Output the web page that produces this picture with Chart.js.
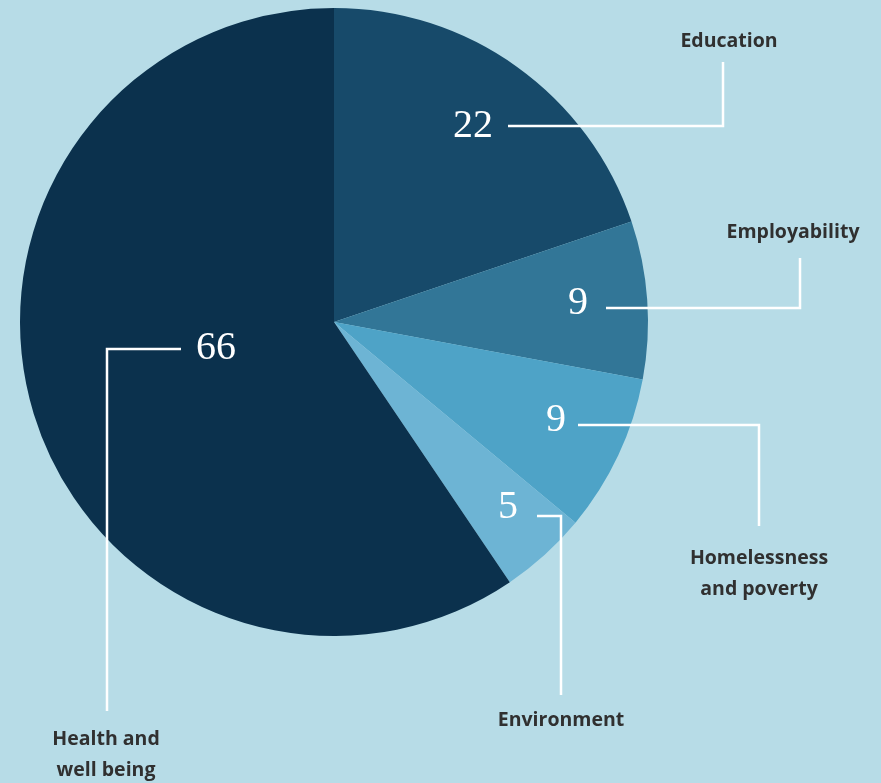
<!DOCTYPE html>
<html>
<head>
<meta charset="utf-8">
<script src="https://cdn.jsdelivr.net/npm/chart.js@4"></script>
<style>
  html, body { margin: 0; padding: 0; background: #b7dce7; }
  #wrap { position: relative; width: 881px; height: 783px; }
</style>
</head>
<body>
<div id="wrap"><canvas id="c" width="881" height="783"></canvas></div>
<script>
// ---- data ----
const categories = ["Education", "Employability", "Homelessness and poverty", "Environment", "Health and well being"];
const values = [22, 9, 9, 5, 66];
const labelLines = [["Education"], ["Employability"], ["Homelessness", "and poverty"], ["Environment"], ["Health and", "well being"]];

// ---- styles / layout ----
const colors = ["#174a6a", "#327697", "#4ea3c7", "#6db4d4", "#0b314d"];
// number position, leader path, label anchor (pixels)
const layoutSpec = [
  { num: [473, 126], path: [[508, 126], [723, 126], [723, 62]], lab: [729, 41] },
  { num: [578, 303], path: [[606, 308], [800, 308], [800, 258]], lab: [793, 232] },
  { num: [556, 420], path: [[578, 425], [759, 425], [759, 526]], lab: [759, 558] },
  { num: [508, 507], path: [[537, 516], [561, 516], [561, 695]], lab: [561, 720] },
  { num: [216, 348], path: [[181, 349], [107, 349], [107, 711]], lab: [106, 739] }
];

const labelPlugin = {
  id: 'leaders',
  afterDatasetsDraw(chart) {
    const ctx = chart.ctx;
    ctx.save();
    chart.getDatasetMeta(0).data.forEach((arc, i) => {
      const L = layoutSpec[i];
      ctx.strokeStyle = '#ffffff';
      ctx.lineWidth = 2.5;
      ctx.lineJoin = 'miter';
      ctx.beginPath();
      L.path.forEach((p, k) => k ? ctx.lineTo(p[0], p[1]) : ctx.moveTo(p[0], p[1]));
      ctx.stroke();
      ctx.fillStyle = '#ffffff';
      ctx.font = '40px "Liberation Serif", "DejaVu Serif", serif';
      ctx.textAlign = 'center';
      ctx.textBaseline = 'middle';
      ctx.fillText(String(values[i]), L.num[0], L.num[1]);
      ctx.fillStyle = '#303030';
      ctx.font = '700 19.5px "Open Sans", sans-serif';
      labelLines[i].forEach((t, k) => ctx.fillText(t, L.lab[0], L.lab[1] + k * 31));
    });
    ctx.restore();
  }
};

new Chart(document.getElementById('c'), {
  type: 'pie',
  data: {
    labels: categories,
    datasets: [{ data: values, backgroundColor: colors, borderWidth: 0, hoverOffset: 0 }]
  },
  options: {
    responsive: false,
    animation: false,
    layout: { padding: { left: 20, top: 8, right: 233, bottom: 147 } },
    plugins: { legend: { display: false }, tooltip: { enabled: false } },
    events: []
  },
  plugins: [labelPlugin]
});
</script>
</body>
</html>
